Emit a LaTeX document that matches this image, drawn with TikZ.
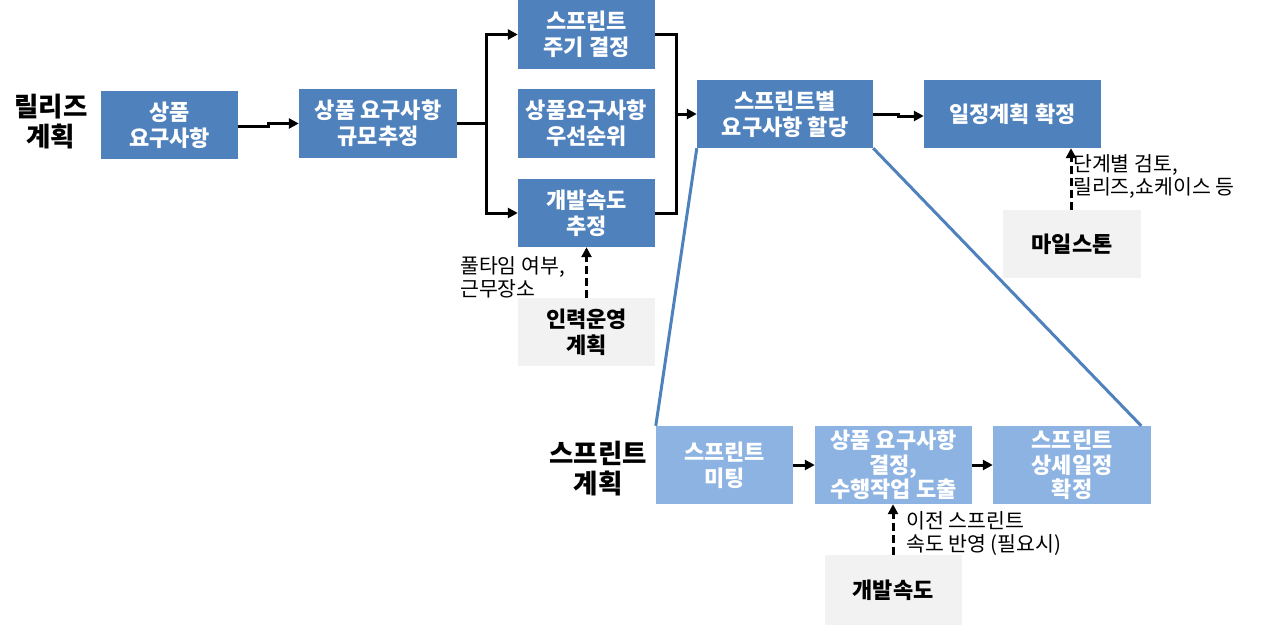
\documentclass[tikz,border=0pt]{standalone}
\usepackage{fontspec}
\setmainfont{Noto Sans CJK KR}
\usetikzlibrary{arrows.meta,calc}
\definecolor{dblue}{HTML}{4F81BD}
\definecolor{lblue}{HTML}{8DB3E2}
\definecolor{lgray}{HTML}{F2F2F2}
\begin{document}
\begin{tikzpicture}[x=1pt,y=-1pt,
 box/.style={fill=dblue, text=white, font=\bfseries\fontsize{22}{26}\selectfont, align=center, inner sep=0, minimum width=137, minimum height=68},
 lbox/.style={box, fill=lblue, minimum height=78},
 gbox/.style={box, fill=lgray, text=black},
 link/.style={line width=3pt},
 conn/.style={link, -{Triangle[length=10pt,width=10pt]}},
 dconn/.style={conn, dash pattern=on 8pt off 4pt},
 note/.style={font=\fontsize{20.5}{23}\selectfont, align=left, inner sep=0, anchor=west},
 head/.style={font=\bfseries\fontsize{26.5}{30}\selectfont, align=center, inner sep=0},
 zoomline/.style={dblue, line width=3pt}]
\useasboundingbox (0,0) rectangle (1280,624);

\node[head] (h1) at (51,122) {릴리즈\\계획};
\node[head] (h2) at (598,469) {스프린트\\계획};

\node[box] (n1) at (169.5,125) {상품\\요구사항};
\node[box, minimum width=158, minimum height=69] (n2) at (378,123.5) {상품 요구사항\\규모추정};
\node[box, minimum height=69] (n3) at (586.5,34.5) {스프린트\\주기 결정};
\node[box, minimum height=69] (n4) at (586.5,123.5) {상품요구사항\\우선순위};
\node[box] (n5) at (586.5,213) {개발속도\\추정};
\node[box, minimum width=176] (n6) at (785,114) {스프린트별\\요구사항 할당};
\node[box, minimum width=177] (n7) at (1012.5,114) {일정계획 확정};
\node[gbox, minimum width=138] (n8) at (1072,244) {마일스톤};
\node[gbox] (n9) at (586.5,332) {인력운영\\계획};
\node[lbox] (n10) at (724.5,465) {스프린트\\미팅};
\node[lbox, minimum width=157, font=\bfseries\fontsize{22}{24.5}\selectfont] (n11) at (893.5,465) {상품 요구사항\\결정,\\수행작업 도출};
\node[lbox, minimum width=158, font=\bfseries\fontsize{22}{24.5}\selectfont] (n12) at (1072,465) {스프린트\\상세일정\\확정};
\node[gbox, minimum height=70] (n13) at (893,590) {개발속도};

\node[note] (t1) at (460,277) {풀타임 여부,\\근무장소};
\node[note] (t2) at (1073,176) {단계별 검토,\\릴리즈,쇼케이스 등};
\node[note] (t3) at (906,534) {이전 스프린트\\속도 반영 (필요시)};

% release planning connectors
\draw[conn] ($(n1.east)+(0,1)$) -- ++(30,0) |- (n2.west);
\coordinate (b1) at (486,123.5);
\draw[link] (n2.east) -- (b1);
\draw[conn] (b1) |- (n3.west);
\draw[conn] (b1) |- (n5.west);
\coordinate (m1) at (676,114);
\draw[link] (n3.east) -| (m1);
\draw[link] (n5.east) -| (m1);
\draw[conn] (m1) -- (n6.west);
\draw[conn] (n6.east) -- ++(25,0) |- ($(n7.west)+(0,2)$);
\draw[dconn] (n9.north) -- (n5.south);
\draw[dconn] ($(n8.north)+(-1,0)$) -- ($(n8.north |- n7.south)+(-1,0)$);

% sprint planning connectors
\draw[conn] (n10.east) -- (n11.west);
\draw[conn] (n11.east) -- (n12.west);
\draw[dconn] (n13.north) -- (n13.north |- n11.south);

% zoom lines
\draw[zoomline] (n6.south west) -- (n10.north west);
\draw[zoomline] (n6.south east) -- ($(n12.north east)+(-10,0)$);
\end{tikzpicture}
\end{document}
